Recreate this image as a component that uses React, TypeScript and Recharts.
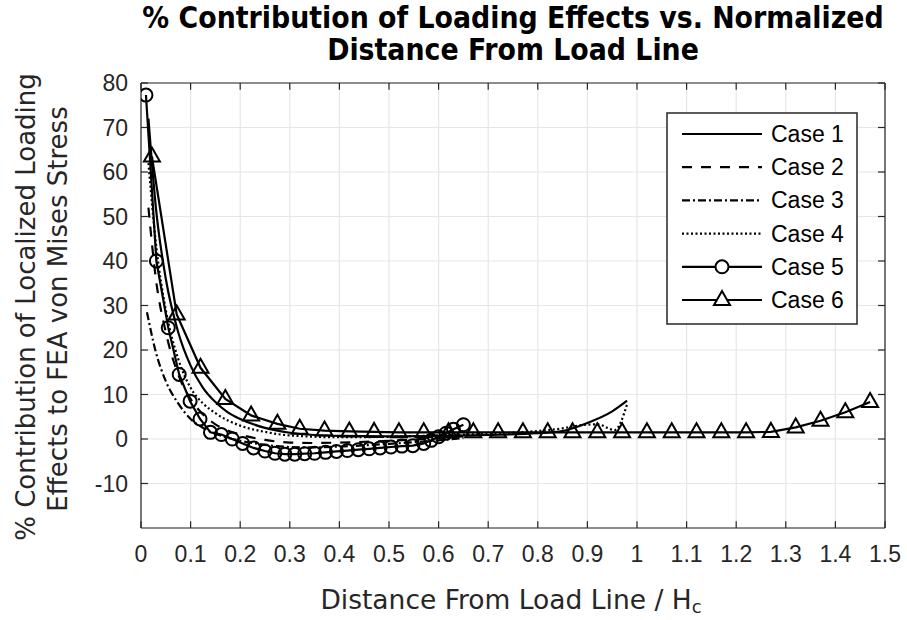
import { LineChart, Line, XAxis, YAxis, CartesianGrid, ReferenceLine, Legend } from "recharts"

const xTicks = [0, 0.1, 0.2, 0.3, 0.4, 0.5, 0.6, 0.7, 0.8, 0.9, 1, 1.1, 1.2, 1.3, 1.4, 1.5]
const yTicks = [-10, 0, 10, 20, 30, 40, 50, 60, 70, 80]

const case1X = [0.015, 0.03, 0.05, 0.075, 0.1, 0.125, 0.15, 0.175, 0.2, 0.25, 0.3, 0.35, 0.4, 0.5, 0.6, 0.7, 0.8, 0.85, 0.9, 0.95, 0.98]
const case1Y = [72, 52, 36, 24, 16.5, 11.5, 8.3, 6, 4.5, 2.5, 1.4, 0.9, 0.7, 0.6, 0.7, 0.9, 1.3, 1.8, 3.6, 6.2, 8.6]

const case2X = [0.015, 0.03, 0.05, 0.075, 0.1, 0.125, 0.15, 0.2, 0.25, 0.3, 0.35, 0.4, 0.5, 0.6, 0.65]
const case2Y = [52, 36, 24, 14.5, 9, 5.5, 3.3, 1, -0.2, -0.8, -0.9, -0.8, -0.4, 0.2, 0.6]

const case3X = [0.012, 0.03, 0.05, 0.075, 0.1, 0.125, 0.15, 0.2, 0.25, 0.3, 0.35, 0.4, 0.5, 0.6, 0.65]
const case3Y = [28.5, 19.5, 13, 8, 4.5, 2.5, 1.2, -0.4, -1.3, -1.8, -1.9, -1.7, -1.1, -0.3, 0.2]

const case4X = [0.015, 0.03, 0.05, 0.075, 0.1, 0.125, 0.15, 0.2, 0.25, 0.3, 0.4, 0.5, 0.6, 0.7, 0.8, 0.85, 0.88, 0.92, 0.955, 0.98]
const case4Y = [62, 44, 29, 18, 11.5, 8, 5.8, 3, 1.6, 0.8, 0.4, 0.5, 0.8, 1.2, 1.8, 2.4, 3, 3.3, 2, 7.8]

const case5X = [0.01, 0.031, 0.055, 0.077, 0.099, 0.119, 0.14, 0.162, 0.184, 0.205, 0.227, 0.25, 0.27, 0.29, 0.31, 0.33, 0.35, 0.372, 0.394, 0.416, 0.438, 0.46, 0.482, 0.504, 0.526, 0.548, 0.57, 0.585, 0.6, 0.615, 0.63, 0.65]
const case5Y = [77.3, 40, 25, 14.5, 8.5, 4.5, 1.5, 1, 0, -1, -2, -2.7, -3.2, -3.4, -3.4, -3.3, -3.2, -3, -2.8, -2.6, -2.4, -2.2, -2, -1.8, -1.6, -1.5, -1, -0.3, 0.5, 1.3, 2.2, 3.2]

const case6X = [0.022, 0.072, 0.12, 0.17, 0.222, 0.275, 0.32, 0.37, 0.42, 0.47, 0.52, 0.57, 0.62, 0.67, 0.72, 0.77, 0.82, 0.87, 0.92, 0.97, 1.02, 1.07, 1.12, 1.17, 1.22, 1.27, 1.32, 1.37, 1.42, 1.47]
const case6Y = [63.5, 28, 16, 9, 5.3, 3.4, 2.3, 1.9, 1.7, 1.6, 1.5, 1.5, 1.5, 1.5, 1.5, 1.5, 1.5, 1.5, 1.5, 1.5, 1.5, 1.5, 1.5, 1.5, 1.5, 1.6, 2.6, 4.1, 6, 8.3]

const caseNames = ["Case 1", "Case 2", "Case 3", "Case 4", "Case 5", "Case 6"]
const caseDash = ["", "10 9", "8 3 2 3", "2 2.5", "", ""]

const toRows = (xs: number[], ys: number[]) => xs.map((x, i) => ({ x, y: ys[i] }))

const series = [
  toRows(case1X, case1Y),
  toRows(case2X, case2Y),
  toRows(case3X, case3Y),
  toRows(case4X, case4Y),
  toRows(case5X, case5Y),
  toRows(case6X, case6Y),
]

const ink = "#262626"

function Triangle(props: any) {
  const { cx, cy } = props
  if (cx == null || cy == null) return null
  return <path d={`M${cx},${cy - 9} L${cx + 8},${cy + 5} L${cx - 8},${cy + 5} Z`} fill="none" stroke="#000" strokeWidth={2} />
}

function Circle(props: any) {
  const { cx, cy } = props
  if (cx == null || cy == null) return null
  return <circle cx={cx} cy={cy} r={6.5} fill="none" stroke="#000" strokeWidth={2} />
}

function LegendBox() {
  return (
    <svg width={192} height={213} style={{ display: "block" }}>
      <rect x={1} y={1} width={190} height={211} fill="#fff" stroke={ink} strokeWidth={1.5} />
      {caseNames.map((name, i) => {
        const y = 22 + i * 33.2
        return (
          <g key={name}>
            <line x1={16} x2={96} y1={y} y2={y} stroke="#000" strokeWidth={2.2} strokeDasharray={caseDash[i] || undefined} />
            {i === 4 && <circle cx={56} cy={y} r={6.5} fill="#fff" stroke="#000" strokeWidth={2} />}
            {i === 5 && <path d={`M56,${y - 9} L64,${y + 5} L48,${y + 5} Z`} fill="#fff" stroke="#000" strokeWidth={2} />}
            <text x={105} y={y + 8} fontFamily="'Liberation Sans', Arial, sans-serif" fontSize={23} fill="#000">
              {name}
            </text>
          </g>
        )
      })}
    </svg>
  )
}

export default function App() {
  const tickFont = { fontFamily: "'Liberation Sans', Arial, sans-serif", fontSize: 23, fill: ink }
  return (
    <div style={{ position: "absolute", left: 0, top: 0, width: 907, height: 620, background: "#fff" }}>
      <LineChart width={907} height={620} margin={{ top: 83, right: 22, bottom: 52, left: 81 }}>
        <CartesianGrid stroke="#e6e6e6" strokeWidth={1.2} />
        <XAxis
          type="number"
          dataKey="x"
          domain={[0, 1.5]}
          ticks={xTicks}
          allowDataOverflow
          height={40}
          tickLine={false}
          tickSize={6}
          tickMargin={12}
          axisLine={{ stroke: ink, strokeWidth: 1.2 }}
          tick={tickFont}
          interval={0}
        />
        <YAxis
          type="number"
          dataKey="y"
          domain={[-20, 80]}
          ticks={yTicks}
          allowDataOverflow
          width={60}
          tickLine={false}
          tickSize={6}
          tickMargin={7}
          axisLine={{ stroke: ink, strokeWidth: 1.2 }}
          tick={tickFont}
          interval={0}
        />
        <ReferenceLine y={80} stroke={ink} strokeWidth={1.2} />
        <ReferenceLine x={1.5} stroke={ink} strokeWidth={1.2} />
        {xTicks.map((t) => (
          <ReferenceLine key={`xb${t}`} segment={[{ x: t, y: -20 }, { x: t, y: -18.5 }]} stroke={ink} strokeWidth={1.2} />
        ))}
        {xTicks.map((t) => (
          <ReferenceLine key={`xt${t}`} segment={[{ x: t, y: 80 }, { x: t, y: 78.5 }]} stroke={ink} strokeWidth={1.2} />
        ))}
        {yTicks.map((t) => (
          <ReferenceLine key={`yl${t}`} segment={[{ x: 0, y: t }, { x: 0.014, y: t }]} stroke={ink} strokeWidth={1.2} />
        ))}
        {yTicks.map((t) => (
          <ReferenceLine key={`yr${t}`} segment={[{ x: 1.486, y: t }, { x: 1.5, y: t }]} stroke={ink} strokeWidth={1.2} />
        ))}
        {series.map((rows, i) => (
          <Line
            key={caseNames[i]}
            data={rows}
            dataKey="y"
            name={caseNames[i]}
            type={i >= 4 ? "linear" : "monotone"}
            stroke="#000"
            strokeWidth={2.2}
            strokeDasharray={caseDash[i] || undefined}
            dot={i === 4 ? <Circle /> : i === 5 ? <Triangle /> : false}
            activeDot={false}
            isAnimationActive={false}
          />
        ))}
        <Legend
          layout="vertical"
          align="center"
          verticalAlign="middle"
          content={() => <LegendBox />}
          wrapperStyle={{ left: 666, top: 112, width: 192, height: 213 }}
        />
      </LineChart>
      <svg width={907} height={620} style={{ position: "absolute", left: 0, top: 0, pointerEvents: "none" }}>
        <g fontFamily="'DejaVu Sans Condensed', 'DejaVu Sans', sans-serif" fontWeight="bold" fontSize={29.8} fill="#000" textAnchor="middle">
          <text x={513} y={28}>% Contribution of Loading Effects vs. Normalized</text>
          <text x={513} y={60}>Distance From Load Line</text>
        </g>
        <text x={511} y={609} fontFamily="'DejaVu Sans', sans-serif" fontSize={26.5} fill={ink} textAnchor="middle">
          Distance From Load Line / H
          <tspan fontSize={18} dy={4}>c</tspan>
        </text>
        <g fontFamily="'DejaVu Sans', sans-serif" fontSize={26} fill={ink} textAnchor="middle">
          <text transform="translate(35,307) rotate(-90)">% Contribution of Localized Loading</text>
          <text transform="translate(67,309) rotate(-90)">Effects to FEA von Mises Stress</text>
        </g>
      </svg>
    </div>
  )
}
